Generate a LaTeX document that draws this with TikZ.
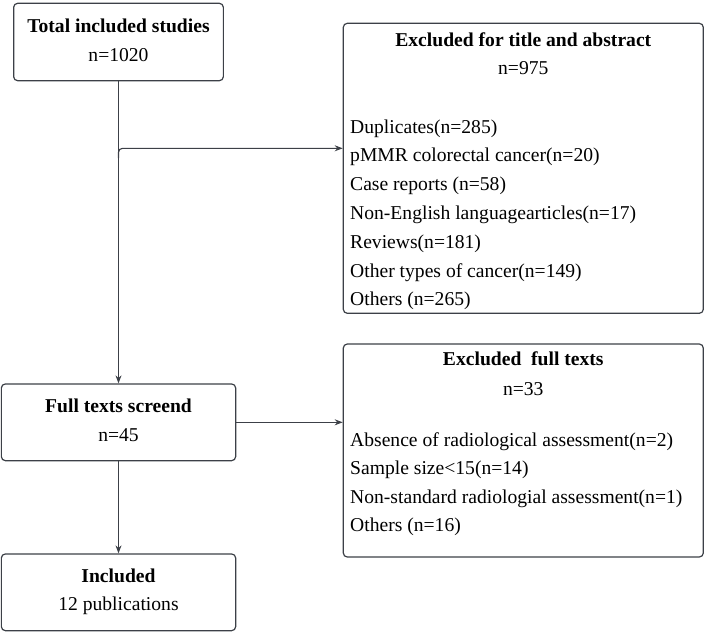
\documentclass[tikz,border=0pt]{standalone}
\usepackage{fontspec}
\setmainfont{Liberation Serif}
\usetikzlibrary{arrows.meta,calc}
\definecolor{ln}{HTML}{3C4047}
\begin{document}
\begin{tikzpicture}[x=1pt,y=-1pt,
  box/.style={draw=ln, line width=1.2pt, rounded corners=4pt, inner sep=0pt},
  txt/.style={font=\fontsize{19.6}{23}\selectfont, inner sep=0pt, text=black},
  hd/.style={txt, font=\fontsize{19.6}{23}\selectfont\bfseries, anchor=base},
  ctr/.style={txt, anchor=base},
  itm/.style={txt, anchor=base west},
  arr/.style={draw=ln, line width=1.1pt, -{Stealth[length=8pt,width=6pt]}}]
\useasboundingbox (0,0) rectangle (706,633);
% boxes
\node[box, minimum width=209.7pt, minimum height=77.4pt] (b1) at (118.5,42) {};
\node[box, minimum width=360pt, minimum height=290pt] (r1) at (523.3,168.3) {};
\node[box, minimum width=234.3pt, minimum height=76.7pt] (full) at (118.5,422.3) {};
\node[box, minimum width=234.3pt, minimum height=76.7pt] (inc) at (118.5,592.3) {};
\node[box, minimum width=360pt, minimum height=213pt] (r2) at (523.3,450.5) {};
% texts box 1
\node[hd] (t1) at (118.5,32.3) {Total included studies};
\node[ctr] (t1n) at (118.5,61) {n=1020};
% texts r1
\node[hd] (r1h) at (523.3,46) {Excluded for title and abstract};
\node[ctr] (r1n) at (523.3,74.5) {n=975};
\node[itm] (r1a) at (350,133) {Duplicates(n=285)};
\node[itm] (r1b) at (350,161.8) {pMMR colorectal cancer(n=20)};
\node[itm] (r1c) at (350,190.6) {Case reports (n=58)};
\node[itm] (r1d) at (350,219.4) {Non-English languagearticles(n=17)};
\node[itm] (r1e) at (350,248.2) {Reviews(n=181)};
\node[itm] (r1f) at (350,277) {Other types of cancer(n=149)};
\node[itm] (r1g) at (350,305.8) {Others (n=265)};
% full texts
\node[hd] (fh) at (118.5,412.7) {Full texts screend};
\node[ctr] (fn) at (118.5,441.7) {n=45};
% included
\node[hd] (ih) at (118.5,582.7) {Included};
\node[ctr] (in) at (118.5,610.7) {12 publications};
% r2
\node[hd] (r2h) at (523.3,365.7) {Excluded\ \ full texts};
\node[ctr] (r2n) at (523.3,395) {n=33};
\node[itm] (r2a) at (350,446) {Absence of radiological assessment(n=2)};
\node[itm] (r2b) at (350,474.6) {Sample size<15(n=14)};
\node[itm] (r2c) at (350,503.2) {Non-standard radiologial assessment(n=1)};
\node[itm] (r2d) at (350,531.8) {Others (n=16)};
% connectors
\draw[arr] (b1.south) -- (full.north);
\coordinate (brs) at (118.5,158);
\coordinate (bre) at (118.5,148.3);
\draw[arr, rounded corners=4pt] (brs) -- (bre) -- (bre -| r1.west);
\draw[arr] (full.east) -- (full.east -| r2.west);
\draw[arr] (full.south) -- (inc.north);
\end{tikzpicture}
\end{document}
